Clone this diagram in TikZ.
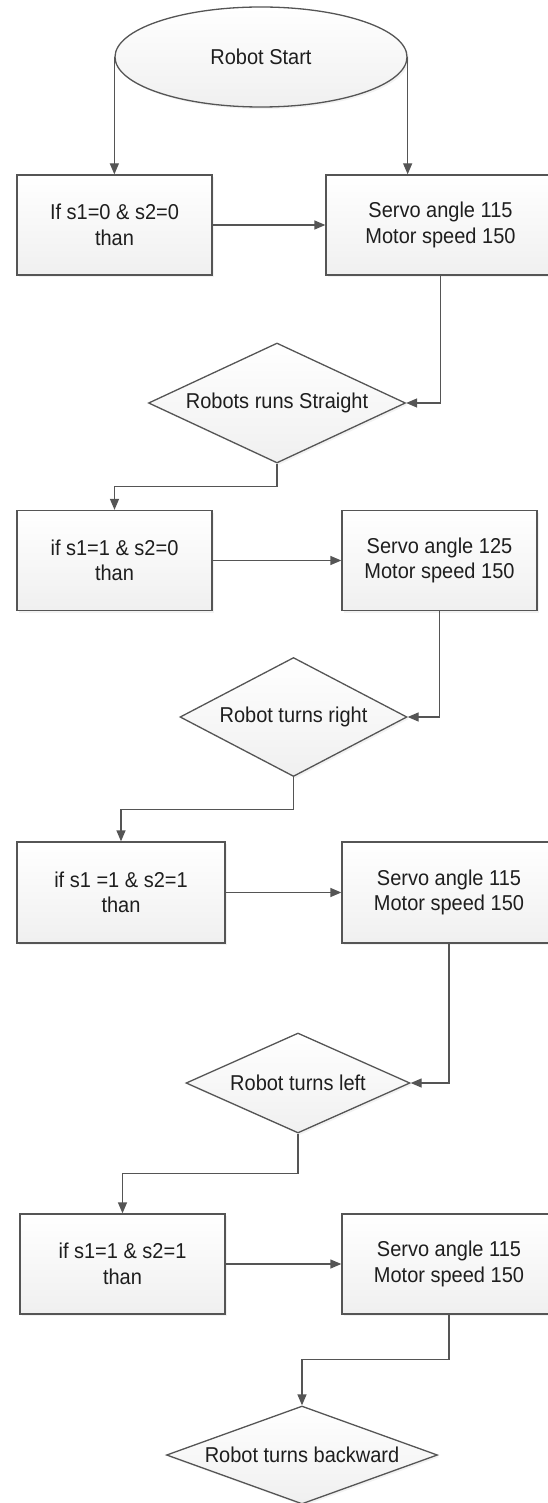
\documentclass[tikz,border=0pt]{standalone}
\usepackage{fontspec}
\setmainfont{Liberation Sans}[FakeStretch=0.93]
\usetikzlibrary{shapes.geometric,arrows.meta,shadows}
\definecolor{edge}{HTML}{555555}
\definecolor{txt}{HTML}{1E1E1E}
\begin{document}
\begin{tikzpicture}[x=1pt,y=-1pt,
  base/.style={draw=edge, line width=1.3pt, top color=white, bottom color=gray!12,
    text=txt, font=\fontsize{21.5}{25.5}\selectfont, inner sep=0pt,
    drop shadow={opacity=0.10,shadow xshift=2pt,shadow yshift=-2pt}},
  box/.style={base, rectangle, align=center},
  dia/.style={base, diamond},
  oval/.style={base, ellipse},
  arr/.style={draw=edge, line width=1.3pt, -{Triangle[length=11pt,width=9pt]}}]
\useasboundingbox (0,0) rectangle (548,1503);

\node[oval, minimum width=292pt, minimum height=100pt] (start) at (261,57) {Robot Start};

\node[box, minimum width=195pt, minimum height=100pt] (b1) at (114.5,225) {If s1=0 \& s2=0\\than};
\node[box, minimum width=229pt, minimum height=100pt] (b2) at (440.5,225) {Servo angle 115\\Motor speed 150};

\node[dia, minimum width=257pt, minimum height=120pt] (d1) at (277,403) {\makebox[0pt]{Robots runs Straight}};

\node[box, minimum width=195pt, minimum height=100pt] (b3) at (114.5,560.5) {if s1=1 \& s2=0\\than};
\node[box, minimum width=195pt, minimum height=100pt] (b4) at (439.5,560.5) {Servo angle 125\\Motor speed 150};

\node[dia, minimum width=227pt, minimum height=119pt] (d2) at (293.5,717) {\makebox[0pt]{Robot turns right}};

\node[box, minimum width=208pt, minimum height=101pt] (b5) at (121,892.5) {if s1 =1 \& s2=1\\than};
\node[box, minimum width=214pt, minimum height=101pt] (b6) at (449,892.5) {Servo angle 115\\Motor speed 150};

\node[dia, minimum width=224pt, minimum height=100pt] (d3) at (298,1083) {\makebox[0pt]{Robot turns left}};

\node[box, minimum width=205pt, minimum height=100pt] (b7) at (122.5,1264) {if s1=1 \& s2=1\\than};
\node[box, minimum width=214pt, minimum height=100pt] (b8) at (449,1264) {Servo angle 115\\Motor speed 150};

\node[dia, minimum width=271pt, minimum height=98pt] (d4) at (302,1455) {\makebox[0pt]{Robot turns backward}};

% connectors
\draw[arr] (start.west) -- (start.west |- b1.north);
\draw[arr] (start.east) -- (start.east |- b2.north);
\draw[arr] (b1.east) -- (b2.west);
\draw[arr] (b2.south) |- (d1.east);
\draw[arr] (d1.south) -- ++(0,23) -| (b3.north);
\draw[arr] (b3.east) -- (b4.west);
\draw[arr] (b4.south) |- (d2.east);
\draw[arr] (d2.south) -- ++(0,32) -| (b5.north);
\draw[arr] (b5.east) -- (b6.west);
\draw[arr] (b6.south) |- (d3.east);
\draw[arr] (d3.south) -- ++(0,40) -| (b7.north);
\draw[arr] (b7.east) -- (b8.west);
\draw[arr] (b8.south) -- ++(0,45) -| (d4.north);
\end{tikzpicture}
\end{document}
